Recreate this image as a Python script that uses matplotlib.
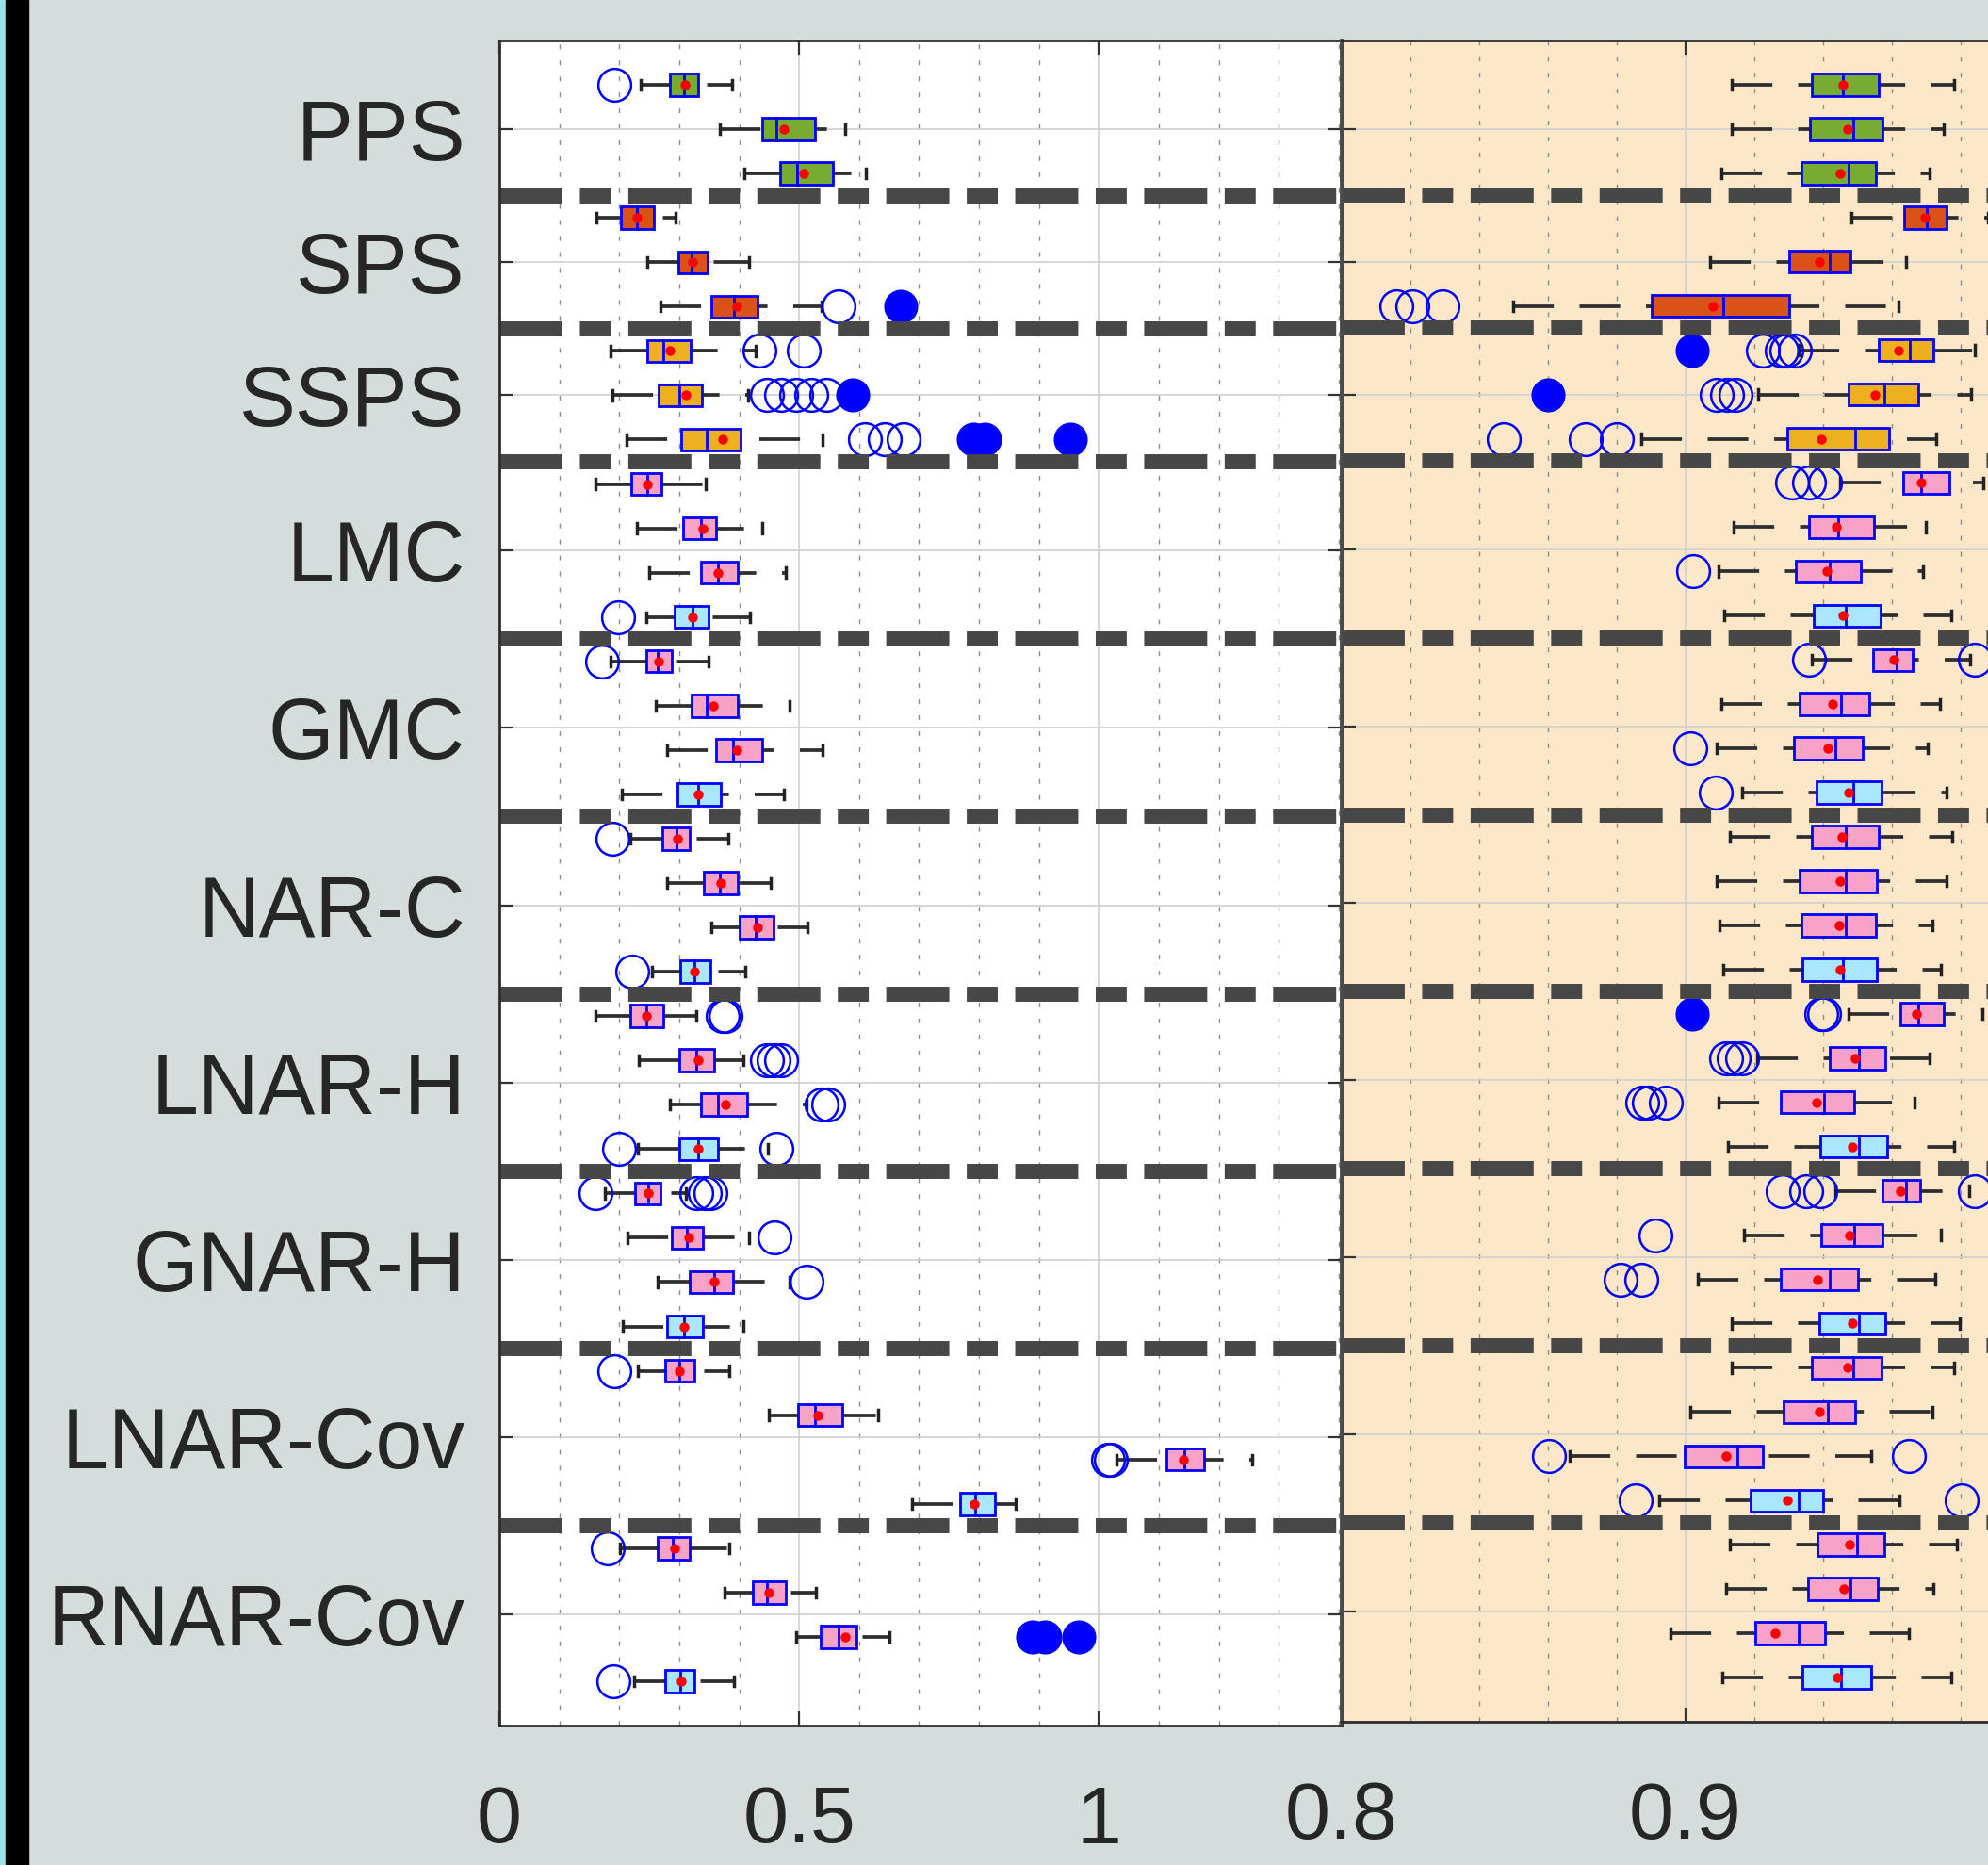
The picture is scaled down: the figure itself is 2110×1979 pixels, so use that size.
import numpy as np
import matplotlib
matplotlib.use("Agg")
import matplotlib.pyplot as plt
from matplotlib.patches import Rectangle
from matplotlib.ticker import MultipleLocator, FixedLocator

plt.rcParams['font.family'] = ['Liberation Sans', 'DejaVu Sans']

# groups on the y axis (top to bottom) and number of boxes in each
groups = ['PPS', 'SPS', 'SSPS', 'LMC', 'GMC', 'NAR-C', 'LNAR-H', 'GNAR-H', 'LNAR-Cov', 'RNAR-Cov']
group_sizes = [3, 3, 3, 4, 4, 4, 4, 4, 4, 4]

# ---- left panel (0 .. 1.4) ----
left_lo = [0.235, 0.368, 0.409, 0.162, 0.247, 0.268, 0.186, 0.189, 0.212,
           0.161, 0.229, 0.250, 0.245, 0.186, 0.261, 0.279, 0.204,
           0.218, 0.279, 0.354, 0.255, 0.161, 0.232, 0.284, 0.231,
           0.176, 0.213, 0.264, 0.206, 0.231, 0.450, 1.030, 0.688,
           0.201, 0.376, 0.495, 0.225]
left_q1 = [0.284, 0.439, 0.469, 0.203, 0.298, 0.354, 0.246, 0.266, 0.303,
           0.220, 0.307, 0.337, 0.293, 0.245, 0.320, 0.361, 0.297,
           0.272, 0.341, 0.400, 0.302, 0.218, 0.300, 0.337, 0.300,
           0.227, 0.288, 0.318, 0.279, 0.276, 0.498, 1.113, 0.768,
           0.264, 0.423, 0.536, 0.277]
left_med = [0.308, 0.462, 0.496, 0.229, 0.320, 0.392, 0.273, 0.300, 0.345,
            0.247, 0.337, 0.364, 0.322, 0.264, 0.346, 0.390, 0.332,
            0.296, 0.368, 0.428, 0.325, 0.245, 0.328, 0.364, 0.332,
            0.249, 0.313, 0.359, 0.308, 0.300, 0.527, 1.143, 0.794,
            0.289, 0.447, 0.566, 0.301]
left_q3 = [0.331, 0.527, 0.556, 0.257, 0.347, 0.431, 0.319, 0.338, 0.403,
           0.271, 0.362, 0.398, 0.349, 0.287, 0.398, 0.439, 0.370,
           0.318, 0.398, 0.457, 0.352, 0.273, 0.359, 0.414, 0.364,
           0.268, 0.340, 0.389, 0.340, 0.325, 0.572, 1.175, 0.826,
           0.317, 0.478, 0.596, 0.325]
left_hi = [0.388, 0.577, 0.611, 0.294, 0.416, 0.537, 0.427, 0.415, 0.539,
           0.344, 0.439, 0.478, 0.418, 0.349, 0.484, 0.539, 0.474,
           0.382, 0.453, 0.514, 0.410, 0.328, 0.407, 0.512, 0.448,
           0.311, 0.416, 0.484, 0.407, 0.384, 0.631, 1.256, 0.862,
           0.383, 0.528, 0.651, 0.392]
left_mean = [0.310, 0.474, 0.507, 0.229, 0.322, 0.396, 0.284, 0.311, 0.373,
             0.247, 0.339, 0.364, 0.322, 0.266, 0.357, 0.396, 0.332,
             0.297, 0.369, 0.430, 0.325, 0.245, 0.331, 0.377, 0.332,
             0.249, 0.316, 0.359, 0.308, 0.300, 0.531, 1.141, 0.792,
             0.292, 0.450, 0.576, 0.303]
left_out = [[0.192], [], [], [], [], [0.565], [0.434, 0.508],
            [0.446, 0.47, 0.495, 0.52, 0.545], [0.609, 0.643, 0.674],
            [], [], [], [0.198], [0.171], [], [], [],
            [0.188], [], [], [0.222], [0.372, 0.377], [0.447, 0.458, 0.470],
            [0.538, 0.548], [0.200, 0.462], [0.161, 0.329, 0.343, 0.352],
            [0.459], [0.512], [], [0.191], [], [1.015, 1.020], [],
            [0.181], [], [], [0.190]]
left_far = [[], [], [], [], [], [0.669], [], [0.590], [0.790, 0.810, 0.953],
            [], [], [], [], [], [], [], [], [], [], [], [], [], [], [], [],
            [], [], [], [], [], [], [], [], [], [], [0.890, 0.910, 0.966], []]

# ---- right panel (0.8 .. 1) ----
right_lo = [0.9133, 0.9135, 0.9105, 0.9482, 0.907, 0.8498, 0.933, 0.921, 0.887,
            0.9448, 0.914, 0.9095, 0.9113, 0.9367, 0.9105, 0.909, 0.9165,
            0.913, 0.909, 0.9099, 0.911, 0.9475, 0.9207, 0.9095, 0.9123,
            0.9436, 0.9171, 0.9035, 0.9135, 0.9135, 0.9015, 0.8662, 0.8922,
            0.913, 0.9118, 0.8957, 0.9108]
right_q1 = [0.9368, 0.9362, 0.9337, 0.9635, 0.930, 0.890, 0.9563, 0.9473, 0.9296,
            0.9633, 0.936, 0.932, 0.9373, 0.9545, 0.9331, 0.9316, 0.9382,
            0.9367, 0.9331, 0.9336, 0.9341, 0.9625, 0.9418, 0.9277, 0.9392,
            0.9572, 0.9394, 0.9277, 0.939, 0.9367, 0.9285, 0.8996, 0.9188,
            0.9383, 0.9355, 0.9204, 0.934]
right_med = [0.9458, 0.9488, 0.9473, 0.9702, 0.942, 0.911, 0.9653, 0.9578, 0.9494,
             0.9686, 0.9445, 0.9418, 0.9466, 0.9613, 0.9452, 0.9436, 0.9488,
             0.9466, 0.9466, 0.9466, 0.9457, 0.9677, 0.9505, 0.9404, 0.9505,
             0.9641, 0.949, 0.942, 0.9505, 0.9488, 0.9414, 0.9151, 0.933,
             0.9498, 0.9479, 0.933, 0.9452]
right_q3 = [0.9563, 0.9572, 0.9554, 0.9758, 0.948, 0.930, 0.972, 0.9677, 0.9593,
            0.9767, 0.9547, 0.951, 0.9566, 0.9659, 0.9533, 0.9514, 0.9571,
            0.9563, 0.9557, 0.9554, 0.9557, 0.9752, 0.9581, 0.949, 0.9587,
            0.9683, 0.9572, 0.950, 0.9581, 0.9569, 0.9492, 0.9225, 0.9399,
            0.9578, 0.956, 0.9405, 0.9541]
right_hi = [0.978, 0.9752, 0.971, 0.988, 0.964, 0.9618, 0.984, 0.983, 0.973,
            0.9866, 0.9698, 0.969, 0.9773, 0.9828, 0.974, 0.9705, 0.9759,
            0.9776, 0.9758, 0.9719, 0.9743, 0.9864, 0.971, 0.9667, 0.9782,
            0.9824, 0.9743, 0.9725, 0.9798, 0.978, 0.9718, 0.9541, 0.9622,
            0.9789, 0.972, 0.965, 0.9773]
right_mean = [0.9458, 0.947, 0.945, 0.9696, 0.939, 0.908, 0.9618, 0.955, 0.9395,
              0.9686, 0.9439, 0.941, 0.9457, 0.9605, 0.9428, 0.9414, 0.9475,
              0.9454, 0.9448, 0.9446, 0.945, 0.967, 0.9493, 0.9382, 0.9484,
              0.9625, 0.9476, 0.9384, 0.9484, 0.9472, 0.939, 0.9118, 0.9297,
              0.9477, 0.946, 0.926, 0.9442]
right_out = [[], [], [], [], [], [0.816, 0.8206, 0.8293],
             [0.9225, 0.928, 0.9293, 0.9318], [0.909, 0.912, 0.9145],
             [0.847, 0.871, 0.880],
             [0.931, 0.936, 0.9406], [], [0.9023], [], [0.936, 0.984], [],
             [0.9015], [0.9087], [], [], [], [], [0.9394, 0.9404],
             [0.9117, 0.9141, 0.9165], [0.8873, 0.8894, 0.8942], [],
             [0.9283, 0.9352, 0.9392, 0.984], [0.8912], [0.881, 0.887], [],
             [], [], [0.8604, 0.965], [0.8856, 0.9804], [], [], [], []]
right_far = [[], [], [], [], [], [], [0.902], [0.860], [], [], [], [], [], [],
             [], [], [], [], [], [], [], [0.902], [], [], [], [], [], [], [],
             [], [], [], [], [], [], [], []]

# box colours
group_colors = ['#77ac30', '#d95319', '#edb120']
pink = '#f8a2c8'
lightblue = '#a9e6ff'

row_colors = []
for gi, n in enumerate(group_sizes):
    for k in range(n):
        if gi < len(group_colors):
            row_colors.append(group_colors[gi])
        else:
            row_colors.append(lightblue if k == n - 1 else pink)

nrows = sum(group_sizes)
rows = np.arange(1, nrows + 1)
bounds = np.cumsum(group_sizes)[:-1] + 0.5
centers = np.cumsum(group_sizes) - (np.array(group_sizes) - 1) / 2.0


def draw_boxes(ax, lo, q1, med, q3, hi, mean, out, far):
    for i, y in enumerate(rows):
        # one dashed whisker line through the box
        ax.plot([lo[i], hi[i]], [y, y], color='#2e2e2e', lw=2.7,
                linestyle=(0, (11.5, 7.3)), dash_capstyle='butt', zorder=2)
        ax.plot([lo[i], lo[i]], [y - 0.11, y + 0.11], color='#222222', lw=2.5, zorder=2)
        ax.plot([hi[i], hi[i]], [y - 0.11, y + 0.11], color='#222222', lw=2.5, zorder=2)
        ax.add_patch(Rectangle((q1[i], y - 0.25), q3[i] - q1[i], 0.5,
                               facecolor=row_colors[i], edgecolor='#0000ff',
                               lw=2.0, zorder=3))
        ax.plot([med[i], med[i]], [y - 0.25, y + 0.25], color='#0000ff', lw=2.0, zorder=4)
        ax.plot([mean[i]], [y], 'o', color='#ff0000', ms=7.5, mew=0, zorder=5)
        if out[i]:
            ax.plot(out[i], [y] * len(out[i]), 'o', mfc='none', mec='#0000ff',
                    ms=25, mew=1.8, zorder=5)
        if far[i]:
            ax.plot(far[i], [y] * len(far[i]), 'o', color='#0000ff', ms=25, zorder=5)


def style_axes(ax, xlim, major, minor, facecolor):
    ax.set_xlim(*xlim)
    ax.set_ylim(nrows + 1, 0)
    ax.set_facecolor(facecolor)
    ax.xaxis.set_major_locator(FixedLocator(major))
    ax.xaxis.set_minor_locator(MultipleLocator(minor))
    ax.set_yticks(centers)
    ax.grid(which='major', color='#d0d0d0', lw=1.2, zorder=0)
    ax.grid(which='minor', axis='x', color='#8c8c8c', lw=1.0,
            linestyle=(0, (3.6, 8.6)), zorder=0)
    ax.set_axisbelow(True)
    ax.tick_params(which='major', direction='in', length=11, width=1.6,
                   color='#333333', top=True, right=True,
                   labelsize=62, labelcolor='#262626')
    ax.tick_params(axis='x', which='major', pad=45)
    ax.tick_params(axis='y', which='major', pad=26, labelsize=64.5)
    ax.tick_params(which='minor', length=0)
    for b in bounds:
        ax.axhline(b, color='#474747', lw=11.5, linestyle=(0, (4.19, 1.16, 2.06, 1.16)),
                   dash_capstyle='butt', zorder=6)
    for s in ax.spines.values():
        s.set_color('#2e2e2e')
        s.set_linewidth(2.0)
        s.set_zorder(7)


fig = plt.figure(figsize=(21.1, 19.79), dpi=100, facecolor='#d5dcdc')

# strip at the left edge of the picture
fig.patches.append(Rectangle((0, 0), 6 / 2110, 1, transform=fig.transFigure,
                             color='#9ae3ea', zorder=0))
fig.patches.append(Rectangle((6 / 2110, 0), 24 / 2110, 1, transform=fig.transFigure,
                             color='#000000', zorder=0))

ax1 = fig.add_axes([530 / 2110, 148 / 1979, 894 / 2110, 1788 / 1979])
ax2 = fig.add_axes([1424 / 2110, 152 / 1979, 730 / 2110, 1784 / 1979])

draw_boxes(ax1, left_lo, left_q1, left_med, left_q3, left_hi, left_mean, left_out, left_far)
style_axes(ax1, (0, 1.405), [0, 0.5, 1], 0.1, 'white')
ax1.set_xticklabels(['0', '0.5', '1'])
ax1.set_yticklabels(groups)

draw_boxes(ax2, right_lo, right_q1, right_med, right_q3, right_hi, right_mean, right_out, right_far)
style_axes(ax2, (0.8, 1.0), [0.8, 0.9], 0.02, '#fce8c8')
ax2.set_xticklabels(['0.8', '0.9'])
ax2.tick_params(axis='y', labelleft=False)
ax2.spines['left'].set_linewidth(3.5)
ax2.spines['left'].set_color('#4a4a4a')

fig.savefig('out.png', dpi=100, facecolor=fig.get_facecolor())
